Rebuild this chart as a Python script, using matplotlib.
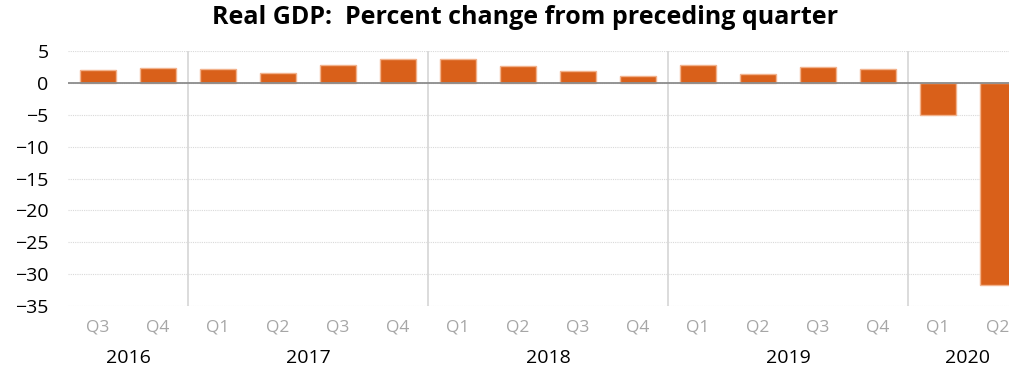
import matplotlib.pyplot as plt
import numpy as np
from matplotlib import transforms

# Data
quarters = ['Q3', 'Q4', 'Q1', 'Q2', 'Q3', 'Q4', 'Q1', 'Q2', 'Q3', 'Q4',
            'Q1', 'Q2', 'Q3', 'Q4', 'Q1', 'Q2']
gdp_change = [2.0, 2.4, 2.1, 1.6, 2.8, 3.8, 3.7, 2.7, 1.9, 1.1,
              2.8, 1.4, 2.5, 2.2, -5.0, -31.7]
years = ['2016', '2017', '2018', '2019', '2020']
year_sizes = [2, 4, 4, 4, 2]

plt.rcParams['font.family'] = ['Open Sans', 'DejaVu Sans']

fig = plt.figure(figsize=(10.09, 3.71), dpi=100)
ax = fig.add_axes([68 / 1009, 1 - 306 / 371, 960 / 1009, 255 / 371])

x = np.arange(len(quarters))
ax.bar(x, gdp_change, width=0.6, color='#D9601A', edgecolor='#F2B28C', linewidth=1, zorder=3)

ax.set_xlim(-0.5, len(quarters) - 0.5)
ax.set_ylim(-35, 5)
ax.set_yticks(range(-35, 6, 5))
ax.tick_params(axis='y', length=0, labelsize=14, pad=14)
ax.set_xticks(x)
ax.set_xticklabels(quarters, fontsize=12.5, color='#A6A6A6')
ax.tick_params(axis='x', length=0, pad=10)

for s in ax.spines.values():
    s.set_visible(False)

ax.grid(axis='y', color='#D9D9D9', linestyle=(0, (1, 1)), linewidth=0.8, zorder=0)
ax.axhline(0, color='#8C8C8C', linewidth=1.3, zorder=4)

# year separators and labels
start = 0
trans = transforms.blended_transform_factory(ax.transData, ax.transAxes)
for yr, n in zip(years, year_sizes):
    if start > 0:
        ax.axvline(start - 0.5, color='#D9D9D9', linewidth=1.3, zorder=1)
    ax.text(start + (n - 1) / 2, -0.205, yr, transform=trans, ha='center', va='center',
            fontsize=14)
    start += n

fig.text(525 / 1009, 1 - 18 / 371, 'Real GDP:  Percent change from preceding quarter',
         ha='center', va='center', fontsize=18, fontweight='bold')

fig.savefig('out.png', dpi=100)
